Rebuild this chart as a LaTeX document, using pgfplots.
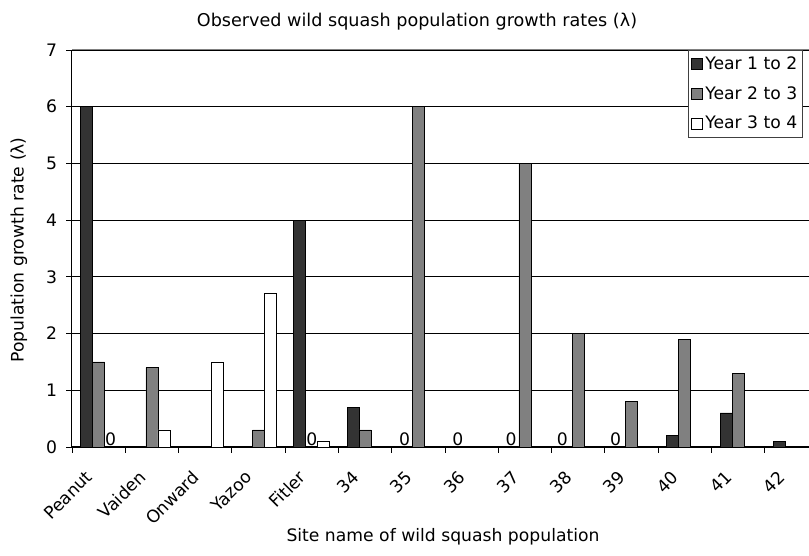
\documentclass[border=0pt]{standalone}
\usepackage{pgfplots}
\pgfplotsset{compat=1.18}
\usepackage{fontspec}
\setmainfont{DejaVu Sans}
\definecolor{darkbar}{HTML}{333333}
\definecolor{midbar}{HTML}{808080}
\newcommand{\cf}{\fontsize{17.2}{20}\selectfont}
\begin{document}
\cf
\begin{tikzpicture}[x=1pt,y=1pt]
\begin{axis}[
  at={(72pt,109pt)}, anchor=south west,
  scale only axis, width=746pt, height=397pt,
  xmin=-0.5, xmax=13.5, ymin=0, ymax=7,
  ybar=0pt, bar width=12pt,
  xtick={0,...,13},
  xticklabels={Peanut,Vaiden,Onward,Yazoo,Fitler,34,35,36,37,38,39,40,41,42},
  xticklabel style={rotate=45, anchor=north east, inner sep=1pt, yshift=-0.5pt, xshift=-20.5pt},
  minor xtick={-0.5,0.5,...,13.5},
  major x tick style={draw=none},
  ytick={0,...,7},
  yticklabel style={xshift=-3pt},
  tick align=outside, tick pos=left,
  major tick length=6pt, minor tick length=6pt,
  tick style={black, line width=0.8pt},
  ymajorgrids, grid style={black, line width=0.8pt},
  axis x line*=bottom, axis y line*=left,
  axis line style={black, line width=1pt},
  /pgf/number format/assume math mode=true,
  tick label style={font=\cf},
  legend style={at={(axis description cs:0.8257,1)}, anchor=north west,
    draw=darkgray, line width=1pt, font=\cf,
    inner xsep=3pt, inner ysep=4pt, row sep=10.5pt},
  legend cell align=left,
  legend image code/.code={\draw[#1, draw=black, line width=0.8pt] (2pt,-5.5pt) rectangle (13pt,5.5pt);},
  clip=false,
]
\addplot[fill=darkbar, draw=black, line width=0.8pt] coordinates {
  (0,6) (4,4) (5,0.7) (11,0.2) (12,0.6) (13,0.1)};
\addplot[fill=midbar, draw=black, line width=0.8pt] coordinates {
  (0,1.5) (1,1.4) (3,0.3) (5,0.3) (6,6) (8,5) (9,2) (10,0.8) (11,1.9) (12,1.3)};
\addplot[fill=white, draw=black, line width=0.8pt] coordinates {
  (1,0.3) (2,1.5) (3,2.7) (4,0.1)};
\legend{Year 1 to 2, Year 2 to 3, Year 3 to 4}
\draw[gray, line width=1pt] (rel axis cs:0,1) -- (rel axis cs:1,1);
\node[anchor=south, inner sep=1pt] at (axis cs:0.225,0) {0};
\node[anchor=south, inner sep=1pt] at (axis cs:4,0) {0};
\node[anchor=south, inner sep=1pt] at (axis cs:5.74,0) {0};
\node[anchor=south, inner sep=1pt] at (axis cs:6.74,0) {0};
\node[anchor=south, inner sep=1pt] at (axis cs:7.74,0) {0};
\node[anchor=south, inner sep=1pt] at (axis cs:8.70,0) {0};
\node[anchor=south, inner sep=1pt] at (axis cs:9.70,0) {0};
\end{axis}
\node at (417,534) {\fontsize{17.6}{20}\selectfont Observed wild squash population growth rates (λ)};
\node at (443,19) {Site name of wild squash population};
\node[rotate=90] at (19,306) {Population growth rate (λ)};
\pgfresetboundingbox
\useasboundingbox (0,0) rectangle (809,556);
\end{tikzpicture}
\end{document}
